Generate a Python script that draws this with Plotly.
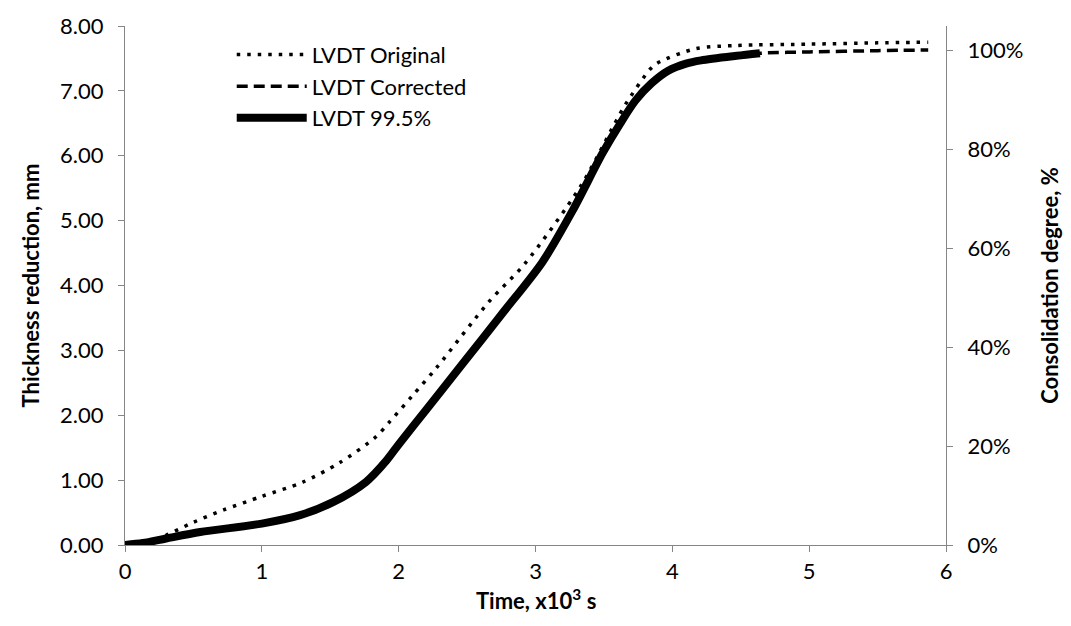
import plotly.graph_objects as go

# Time (x10^3 s) and thickness reduction (mm)
t_original = [0.0, 0.15, 0.30, 0.50, 0.72, 1.00, 1.30, 1.57, 1.83, 1.93, 2.10, 2.28, 2.66, 2.92,
              3.33, 3.58, 3.66, 3.84, 3.90, 4.17, 4.47, 5.00, 5.50, 5.87]
y_original = [0.0, 0.03, 0.15, 0.35, 0.54, 0.75, 0.97, 1.27, 1.66, 1.89, 2.30, 2.74, 3.75, 4.33,
              5.53, 6.50, 6.80, 7.34, 7.44, 7.65, 7.70, 7.72, 7.74, 7.75]

t_corrected = [0.0, 0.13, 0.30, 0.55, 1.00, 1.28, 1.52, 1.76, 1.91, 2.00, 2.20, 2.47, 2.75, 3.05,
               3.27, 3.49, 3.62, 3.73, 3.85, 3.97, 4.10, 4.21, 4.47, 4.64, 5.00, 5.50, 5.87]
y_corrected = [0.0, 0.03, 0.10, 0.20, 0.33, 0.46, 0.66, 0.97, 1.30, 1.55, 2.08, 2.80, 3.55, 4.36,
               5.15, 6.04, 6.50, 6.85, 7.12, 7.31, 7.42, 7.47, 7.54, 7.58, 7.60, 7.62, 7.63]

t_995_end = 4.64          # time at 99.5 % consolidation
final_settlement = 7.63   # thickness reduction corresponding to 100 %

y_ticks = [0, 1, 2, 3, 4, 5, 6, 7, 8]
x_ticks = [0, 1, 2, 3, 4, 5, 6]
pct_ticks = [0, 20, 40, 60, 80, 100]
pct_labels = ["0%", "20%", "40%", "60%", "80%", "100%"]

t_995 = [t for t in t_corrected if t <= t_995_end]
y_995 = y_corrected[:len(t_995)]
pct_corrected = [v / final_settlement * 100 for v in y_corrected]

FONT = "Lato"
AXC = "#868686"
FS = 22

fig = go.Figure()
fig.add_trace(go.Scatter(x=t_original, y=y_original, mode="lines", name="LVDT Original",
                         line=dict(color="black", width=3.5, dash="3.5px,7px", shape="spline", smoothing=0.8)))
fig.add_trace(go.Scatter(x=t_corrected, y=y_corrected, mode="lines", name="LVDT Corrected",
                         line=dict(color="black", width=3.5, dash="11px,6px", shape="spline", smoothing=0.8)))
fig.add_trace(go.Scatter(x=t_995, y=y_995, mode="lines", name="LVDT 99.5%",
                         line=dict(color="black", width=8, shape="spline", smoothing=0.8)))
fig.add_trace(go.Scatter(x=t_corrected, y=pct_corrected, mode="lines", yaxis="y2",
                         showlegend=False, hoverinfo="skip", opacity=0,
                         line=dict(color="rgba(0,0,0,0)", width=1)))

axis_common = dict(showline=True, linecolor=AXC, linewidth=1.3, ticks="outside", ticklen=6,
                   tickcolor=AXC, showgrid=False, zeroline=False,
                   tickfont=dict(family=FONT, size=FS, color="black"))

fig.update_layout(
    width=1071, height=626,
    margin=dict(l=125, r=123, t=22, b=81),
    paper_bgcolor="white", plot_bgcolor="white",
    font=dict(family=FONT, color="black"),
    xaxis=dict(range=[0, 6], tickvals=x_ticks, **axis_common),
    yaxis=dict(range=[0, 8], tickvals=y_ticks, tickformat=".2f", ticklabelstandoff=10, **axis_common,
               title=dict(text="<b>Thickness reduction, mm</b>", font=dict(family=FONT, size=FS), standoff=14)),
    yaxis2=dict(overlaying="y", side="right", range=[0, 8 / final_settlement * 100],
                tickvals=pct_ticks, ticktext=pct_labels, ticklabelstandoff=10, **axis_common,
                title=dict(text="<b>Consolidation degree, %</b>", font=dict(family=FONT, size=FS), standoff=20)),
    legend=dict(x=0.13, y=0.985, xanchor="left", yanchor="top", bgcolor="rgba(0,0,0,0)",
                font=dict(family=FONT, size=FS), itemwidth=70, tracegroupgap=0),
    showlegend=True,
    annotations=[dict(text="<b>Time, x10<sup>3</sup> s</b>", xref="paper", yref="paper",
                      x=0.5, y=-0.105, xanchor="center", yanchor="middle", showarrow=False,
                      font=dict(family=FONT, size=FS, color="black"))],
)

fig.write_html("out.html")
